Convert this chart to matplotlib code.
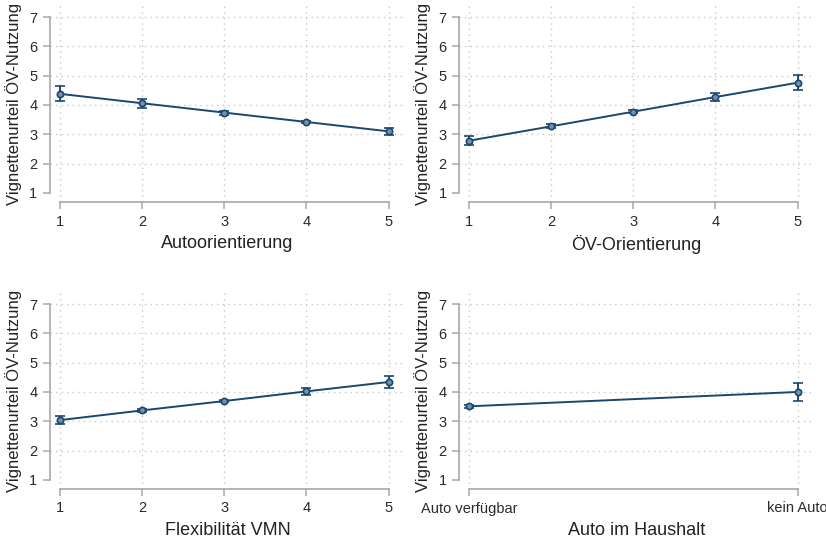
import numpy as np
import matplotlib.pyplot as plt

plt.rcParams['font.family'] = ['Liberation Sans', 'DejaVu Sans']

ylab = "Vignettenurteil ÖV-Nutzung"

# Autoorientierung
x_auto = [1, 2, 3, 4, 5]
m_auto = [4.38, 4.06, 3.74, 3.42, 3.10]
lo_auto = [4.13, 3.90, 3.67, 3.38, 2.97]
hi_auto = [4.63, 4.22, 3.81, 3.47, 3.23]

# ÖV-Orientierung
x_oev = [1, 2, 3, 4, 5]
m_oev = [2.78, 3.27, 3.77, 4.27, 4.76]
lo_oev = [2.63, 3.20, 3.71, 4.13, 4.50]
hi_oev = [2.93, 3.34, 3.83, 4.41, 5.02]

# Flexibilität VMN
x_flex = [1, 2, 3, 4, 5]
m_flex = [3.04, 3.37, 3.69, 4.02, 4.34]
lo_flex = [2.91, 3.31, 3.65, 3.90, 4.13]
hi_flex = [3.17, 3.43, 3.73, 4.14, 4.55]

# Auto im Haushalt
x_hh = [0, 1]
hh_labels = ["Auto verfügbar", "kein Auto"]
m_hh = [3.51, 4.00]
lo_hh = [3.47, 3.69]
hi_hh = [3.55, 4.31]

navy = "#1a476f"
grey = "#a8a8a8"

W, H = 826, 539
fig = plt.figure(figsize=(W / 100, H / 100), dpi=100)


def make_ax(px_left, px_right, px_top, px_bottom):
    return fig.add_axes([px_left / W, 1 - px_bottom / H,
                         (px_right - px_left) / W, (px_bottom - px_top) / H])


def panel(ax, x, m, lo, hi, xlabel, xticks, xticklabels, xlim):
    m = np.array(m)
    err = [m - np.array(lo), np.array(hi) - m]
    ax.errorbar(x, m, yerr=err, color=navy, lw=1.4, capsize=3.5, capthick=1.4,
                elinewidth=1.4, marker='o', markersize=4.5, markerfacecolor="#7890aa",
                markeredgecolor=navy, markeredgewidth=1.2, zorder=3)
    ax.set_xlim(*xlim)
    ax.set_ylim(0.69, 7.41)
    ax.set_yticks(range(1, 8))
    ax.set_xticks(xticks)
    ax.set_xticklabels(xticklabels)
    ax.grid(True, color="#c8c8c8", linestyle=(0, (1, 3)), linewidth=1.0)
    ax.yaxis.get_gridlines()[0].set_visible(False)
    ax.spines['top'].set_visible(False)
    ax.spines['right'].set_visible(False)
    ax.spines['left'].set_bounds(1, 7)
    ax.spines['bottom'].set_bounds(xticks[0], xticks[-1])
    for s in ('left', 'bottom'):
        ax.spines[s].set_color(grey)
        ax.spines[s].set_linewidth(1.2)
    ax.tick_params(colors=grey, labelcolor="#2a2a2a", labelsize=10.5, length=5, width=1.1, pad=4)
    ax.set_xlabel(xlabel, fontsize=13, color="#222222", labelpad=5)
    ax.set_ylabel(ylab, fontsize=12, color="#222222", labelpad=5)


xl5 = (0.88, 5.2)
xl2 = (-0.03, 1.05)

ax1 = make_ax(50, 405, 5, 202)
panel(ax1, x_auto, m_auto, lo_auto, hi_auto, "Autoorientierung", [1, 2, 3, 4, 5], ["1", "2", "3", "4", "5"], xl5)

ax2 = make_ax(459, 814, 5, 202)
panel(ax2, x_oev, m_oev, lo_oev, hi_oev, "ÖV-Orientierung", [1, 2, 3, 4, 5], ["1", "2", "3", "4", "5"], xl5)

ax3 = make_ax(50, 405, 292, 489)
panel(ax3, x_flex, m_flex, lo_flex, hi_flex, "Flexibilität VMN", [1, 2, 3, 4, 5], ["1", "2", "3", "4", "5"], xl5)

ax4 = make_ax(459, 814, 292, 489)
panel(ax4, x_hh, m_hh, lo_hh, hi_hh, "Auto im Haushalt", [0, 1], hh_labels, xl2)

fig.savefig("out.png", dpi=100)
